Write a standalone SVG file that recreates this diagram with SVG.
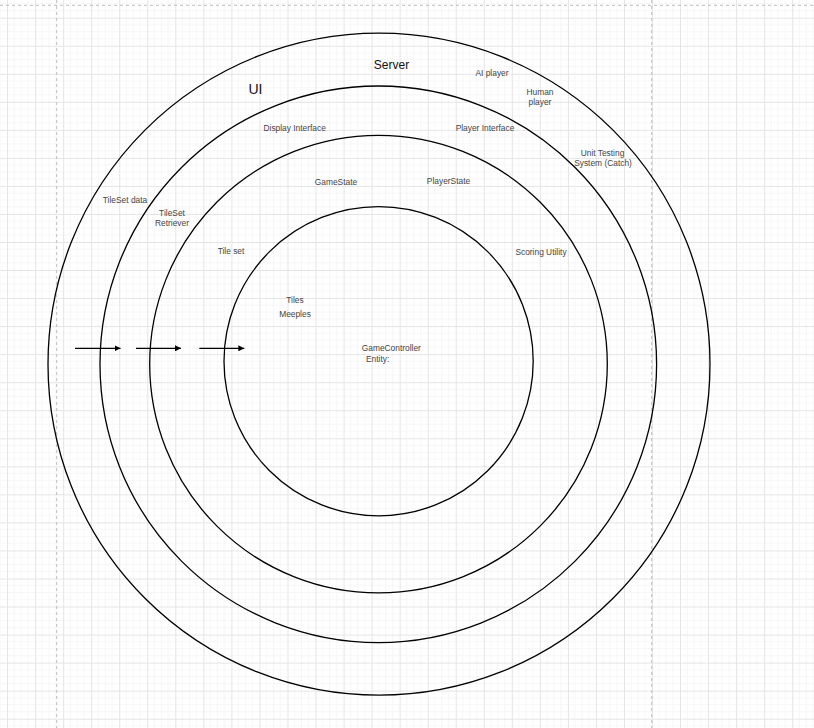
<svg xmlns="http://www.w3.org/2000/svg" width="814" height="728" viewBox="0 0 814 728">
  <defs>
    <pattern id="grid" patternUnits="userSpaceOnUse" x="7.1" y="17.7" width="28.04" height="28.04">
      <path d="M7.01 0V28.04M14.02 0V28.04M21.03 0V28.04M0 7.01H28.04M0 14.02H28.04M0 21.03H28.04" stroke="#f6f6f6" stroke-width="1" fill="none"/>
      <path d="M0.5 0V28.04M0 0.5H28.04" stroke="#e4e4e4" stroke-width="1" fill="none"/>
    </pattern>
    <marker id="arrow" viewBox="0 0 6 6" refX="6" refY="3" markerWidth="6" markerHeight="6" markerUnits="userSpaceOnUse" orient="auto">
      <path d="M0 0L6 3L0 6Z" fill="#000"/>
    </marker>
  </defs>
  <style>
    .ring { fill: none; stroke: #000; stroke-width: 1.3; }
    .lbl { font-family: "Liberation Sans", Arial, sans-serif; font-size: 8.4px; fill: #444; text-anchor: middle; }
    .lbl-start { font-family: "Liberation Sans", Arial, sans-serif; font-size: 8.4px; fill: #444; text-anchor: start; }
    .big { font-family: "Liberation Sans", Arial, sans-serif; fill: #111; text-anchor: middle; }
    .conn { stroke: #000; stroke-width: 1.3; fill: none; marker-end: url(#arrow); }
    .page { stroke: #bdbdbd; stroke-width: 1; stroke-dasharray: 3 3; fill: none; }
  </style>
  <rect width="814" height="728" fill="#fff"/>
  <rect width="814" height="728" fill="url(#grid)"/>
  <g id="page-breaks">
    <path class="page" d="M56.7 0V728M651.7 0V728M0 5.3H814"/>
  </g>

  <g id="server">
    <circle class="ring" cx="379" cy="364.2" r="331"/>
    <text class="big" x="391.5" y="68.8" font-size="12">Server</text>
    <text class="lbl" x="492" y="75.6">AI player</text>
    <text class="lbl" x="540" y="95.2">Human</text>
    <text class="lbl" x="540" y="105.2">player</text>
    <text class="lbl" x="602.5" y="156.2">Unit Testing</text>
    <text class="lbl" x="603" y="166.2">System (Catch)</text>
    <text class="lbl" x="125" y="202.9">TileSet data</text>
  </g>

  <g id="ui">
    <circle class="ring" cx="378.3" cy="364.3" r="278.3"/>
    <text class="big" x="255.5" y="93.5" font-size="14">UI</text>
    <text class="lbl" x="294.7" y="131.2">Display Interface</text>
    <text class="lbl" x="485" y="131.2">Player Interface</text>
    <text class="lbl" x="172" y="216.2">TileSet</text>
    <text class="lbl" x="172" y="226.2">Retriever</text>
  </g>

  <g id="state">
    <circle class="ring" cx="378.5" cy="364.1" r="228.8"/>
    <text class="lbl" x="336" y="184.6">GameState</text>
    <text class="lbl" x="448.5" y="183.9">PlayerState</text>
    <text class="lbl" x="231" y="253.9">Tile set</text>
    <text class="lbl" x="541" y="254.6">Scoring Utility</text>
  </g>

  <g id="entity">
    <circle class="ring" cx="378.6" cy="361.2" r="154.6"/>
    <text class="lbl" x="295" y="302.9">Tiles</text>
    <text class="lbl" x="295" y="317.2">Meeples</text>
    <text class="lbl" x="391.3" y="351.4">GameController</text>
    <text class="lbl-start" x="366" y="361.6">Entity:</text>
  </g>

  <g id="connectors">
    <line class="conn" x1="75" y1="348.3" x2="120.5" y2="348.3"/>
    <line class="conn" x1="136" y1="348.3" x2="181" y2="348.3"/>
    <line class="conn" x1="199.3" y1="348.3" x2="244.3" y2="348.3"/>
  </g>
</svg>
